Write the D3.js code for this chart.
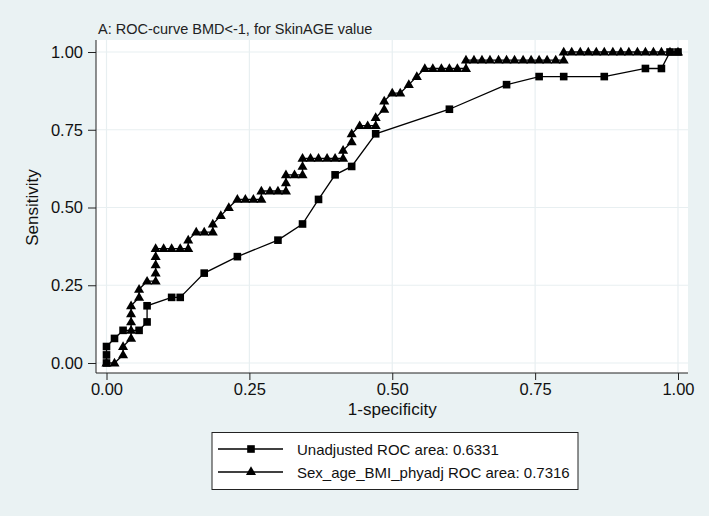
<!DOCTYPE html>
<html>
<head>
<meta charset="utf-8">
<script src="https://cdn.jsdelivr.net/npm/d3@7"></script>
<style>
  body { margin: 0; background: #eaf2f3; }
  svg { display: block; font-family: 'Liberation Sans', Arial, sans-serif; }
</style>
</head>
<body>
<svg id="chart" width="709" height="516"></svg>
<script>
// DATA
const ticks = [0, 0.25, 0.5, 0.75, 1];
const seriesNames = ['Unadjusted ROC area: 0.6331', 'Sex_age_BMI_phyadj ROC area: 0.7316'];

const unadjX = [0, 0, 0, 0.014, 0.029, 0.057, 0.071, 0.071, 0.114, 0.129, 0.171, 0.229, 0.3, 0.343,
  0.371, 0.4, 0.429, 0.471, 0.6, 0.7, 0.757, 0.8, 0.871, 0.943, 0.971, 0.986, 1];
const unadjY = [0, 0.026, 0.053, 0.079, 0.105, 0.105, 0.132, 0.184, 0.211, 0.211, 0.289, 0.342, 0.395, 0.447,
  0.526, 0.605, 0.632, 0.737, 0.816, 0.895, 0.921, 0.921, 0.921, 0.947, 0.947, 1, 1];

const adjX = [0, 0.014, 0.029, 0.029, 0.043, 0.043, 0.043, 0.043, 0.043, 0.057, 0.057, 0.071, 0.086,
  0.086, 0.086, 0.086, 0.086, 0.1, 0.114, 0.129, 0.143, 0.143, 0.157, 0.171, 0.186, 0.186, 0.2, 0.214,
  0.229, 0.243, 0.257, 0.271, 0.271, 0.286, 0.3, 0.314, 0.314, 0.314, 0.329, 0.343, 0.343, 0.343,
  0.357, 0.371, 0.386, 0.4, 0.414, 0.414, 0.429, 0.429, 0.443, 0.457, 0.471, 0.471, 0.486, 0.486,
  0.5, 0.514, 0.529, 0.543, 0.557, 0.571, 0.586, 0.6, 0.614, 0.629, 0.629, 0.643, 0.657, 0.671,
  0.686, 0.7, 0.714, 0.729, 0.743, 0.757, 0.771, 0.786, 0.8, 0.8, 0.814, 0.829, 0.843, 0.857, 0.871,
  0.886, 0.9, 0.914, 0.929, 0.943, 0.957, 0.971, 0.986, 1];
const adjY = [0, 0, 0.026, 0.053, 0.079, 0.105, 0.132, 0.158, 0.184, 0.211, 0.237, 0.263, 0.263,
  0.289, 0.316, 0.342, 0.368, 0.368, 0.368, 0.368, 0.368, 0.395, 0.421, 0.421, 0.421, 0.447, 0.474, 0.5,
  0.526, 0.526, 0.526, 0.526, 0.553, 0.553, 0.553, 0.553, 0.579, 0.605, 0.605, 0.605, 0.632, 0.658,
  0.658, 0.658, 0.658, 0.658, 0.658, 0.684, 0.711, 0.737, 0.763, 0.763, 0.763, 0.789, 0.816, 0.842,
  0.868, 0.868, 0.895, 0.921, 0.947, 0.947, 0.947, 0.947, 0.947, 0.947, 0.974, 0.974, 0.974, 0.974,
  0.974, 0.974, 0.974, 0.974, 0.974, 0.974, 0.974, 0.974, 0.974, 1, 1, 1, 1, 1, 1,
  1, 1, 1, 1, 1, 1, 1, 1, 1];

// SETUP
const svg = d3.select('#chart');
const plot = { left: 96, right: 688, top: 40, bottom: 373 };
const x = d3.scaleLinear().domain([0, 1]).range([106.5, 678]);
const y = d3.scaleLinear().domain([0, 1]).range([363, 52]);

svg.append('rect').attr('width', 709).attr('height', 516).attr('fill', '#eaf2f3');
svg.append('rect')
  .attr('x', plot.left).attr('y', plot.top)
  .attr('width', plot.right - plot.left).attr('height', plot.bottom - plot.top)
  .attr('fill', '#fff');

// GRID
svg.append('g').selectAll('line.h').data(ticks).enter().append('line')
  .attr('x1', plot.left).attr('x2', plot.right)
  .attr('y1', d => y(d)).attr('y2', d => y(d))
  .attr('stroke', '#e8eff1').attr('stroke-width', 1.2);
svg.append('g').selectAll('line.v').data(ticks).enter().append('line')
  .attr('y1', plot.top).attr('y2', plot.bottom)
  .attr('x1', d => x(d)).attr('x2', d => x(d))
  .attr('stroke', '#e8eff1').attr('stroke-width', 1.2);

// AXES
const fmt = d3.format('.2f');
const yAxis = svg.append('g')
  .attr('transform', 'translate(' + plot.left + ',0)')
  .call(d3.axisLeft(y).tickValues(ticks).tickFormat(fmt).tickSizeInner(8).tickSizeOuter(0).tickPadding(5));
yAxis.select('.domain').attr('d', 'M0,' + plot.top + 'V' + plot.bottom);
const xAxis = svg.append('g')
  .attr('transform', 'translate(0,' + plot.bottom + ')')
  .call(d3.axisBottom(x).tickValues(ticks).tickFormat(fmt).tickSizeInner(7).tickSizeOuter(0).tickPadding(3));
xAxis.select('.domain').attr('d', 'M' + plot.left + ',0H' + plot.right);
svg.selectAll('.domain, .tick line').attr('stroke', '#222').attr('stroke-width', 1);
svg.selectAll('.tick text').attr('font-size', 16.5).attr('fill', '#111').attr('font-family', 'Liberation Sans, Arial, sans-serif');

// LABELS
svg.append('text').attr('x', 98).attr('y', 34).attr('font-size', 14.5).attr('fill', '#222')
  .text('A: ROC-curve BMD<-1, for SkinAGE value');
svg.append('text').attr('transform', 'translate(38,' + ((plot.top + plot.bottom) / 2 + 1) + ') rotate(-90)')
  .attr('text-anchor', 'middle').attr('font-size', 17).attr('fill', '#111').text('Sensitivity');
svg.append('text').attr('x', x(0.5)).attr('y', 415).attr('text-anchor', 'middle')
  .attr('font-size', 17).attr('fill', '#111').text('1-specificity');

// SERIES
const line = d3.line().x(d => x(d[0])).y(d => y(d[1]));
const unadj = unadjX.map((v, i) => [v, unadjY[i]]);
const adj = adjX.map((v, i) => [v, adjY[i]]);
const tri = d3.symbol().type(d3.symbolTriangle).size(44);
const sq = d3.symbol().type(d3.symbolSquare).size(58);

function drawSeries(data, sym, dy) {
  svg.append('path').datum(data).attr('d', line)
    .attr('fill', 'none').attr('stroke', '#000').attr('stroke-width', 1.3);
  svg.append('g').selectAll('path').data(data).enter().append('path')
    .attr('d', sym)
    .attr('transform', d => 'translate(' + x(d[0]) + ',' + (y(d[1]) + dy) + ')')
    .attr('fill', '#000');
}
drawSeries(unadj, sq, 0);
drawSeries(adj, tri, 0.5);

// LEGEND
const lg = svg.append('g');
lg.append('rect').attr('x', 212).attr('y', 432.5).attr('width', 366).attr('height', 57)
  .attr('fill', '#fff').attr('stroke', '#222').attr('stroke-width', 1);
const rows = [{ name: seriesNames[0], sym: sq }, { name: seriesNames[1], sym: tri }];
rows.forEach((r, i) => {
  const ry = 449 + i * 23;
  lg.append('line').attr('x1', 218).attr('x2', 283).attr('y1', ry).attr('y2', ry)
    .attr('stroke', '#000').attr('stroke-width', 1.3);
  lg.append('path').attr('d', r.sym).attr('transform', 'translate(251,' + ry + ')').attr('fill', '#000');
  lg.append('text').attr('x', 297).attr('y', ry + 5.5).attr('font-size', 15).attr('fill', '#111').text(r.name);
});
</script>
</body>
</html>
